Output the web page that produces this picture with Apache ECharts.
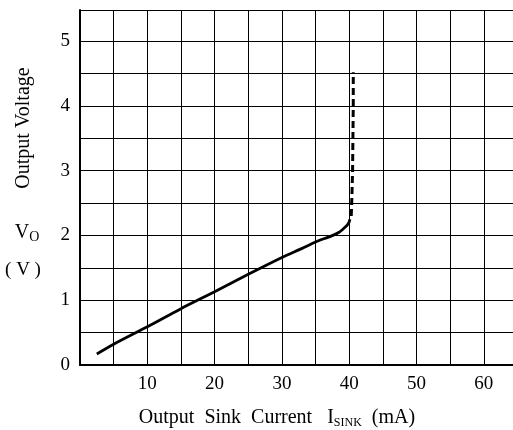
<!DOCTYPE html>
<html>
<head>
<meta charset="utf-8">
<script src="https://cdn.jsdelivr.net/npm/echarts@6/dist/echarts.min.js"></script>
<style>html,body{margin:0;padding:0;background:#fff;overflow:hidden}#c{width:540px;height:430px}</style>
</head>
<body>
<div id="c"></div>
<script>
const solidX = [2.5, 5, 10, 15, 20, 25, 30, 33, 35, 37.3, 38.5, 39.2, 39.7, 40.0, 40.1];
const solidY = [0.17, 0.32, 0.59, 0.87, 1.13, 1.40, 1.66, 1.80, 1.90, 1.99, 2.05, 2.11, 2.16, 2.21, 2.25];
const dashX = [40.3, 40.4, 40.5, 40.55, 40.6, 40.6];
const dashY = [2.3, 2.6, 3.0, 3.5, 4.0, 4.52];
const xTickLabels = [10, 20, 30, 40, 50, 60];
const yTickLabels = [0, 1, 2, 3, 4, 5];

const font = '"Liberation Serif", "DejaVu Serif", serif';
const chart = echarts.init(document.getElementById('c'));
const zip = (a, b) => a.map((v, i) => [v, b[i]]);
chart.setOption({
  animation: false,
  backgroundColor: '#fff',
  grid: { left: 80, right: 0, top: 10, bottom: 65 },
  xAxis: [{
    type: 'value', min: 0, max: 67.9, interval: 5,
    axisLine: { show: true, onZero: false, lineStyle: { color: '#000', width: 2 } },
    axisTick: { show: false },
    splitLine: { show: true, lineStyle: { color: '#000', width: 1 } },
    axisLabel: {
      color: '#000', fontFamily: font, fontSize: 19, margin: 10,
      formatter: v => (xTickLabels.indexOf(v) >= 0 ? String(v) : '')
    }
  }, {
    type: 'value', position: 'top', min: 0, max: 67.9,
    axisLine: { show: true, lineStyle: { color: '#000', width: 2 } },
    axisTick: { show: false }, axisLabel: { show: false }, splitLine: { show: false }
  }],
  yAxis: {
    type: 'value', min: 0, max: 5.48, interval: 0.5,
    axisLine: { show: true, lineStyle: { color: '#000', width: 2 } },
    axisTick: { show: false },
    splitLine: { show: true, lineStyle: { color: '#000', width: 1 } },
    axisLabel: {
      color: '#000', fontFamily: font, fontSize: 19, margin: 10,
      formatter: v => (yTickLabels.indexOf(v) >= 0 ? String(v) : '')
    }
  },
  series: [{
    type: 'line', data: zip(solidX, solidY), showSymbol: false, smooth: 0.2,
    lineStyle: { color: '#000', width: 2.8 }
  }, {
    type: 'line', data: zip(dashX, dashY), showSymbol: false,
    lineStyle: { color: '#000', width: 3, type: [7, 4] }
  }],
  graphic: [{
    type: 'text', x: 24, y: 128, rotation: Math.PI / 2,
    style: { text: 'Output Voltage', font: '20px ' + font, fill: '#000', align: 'center', verticalAlign: 'middle' }
  }, {
    type: 'text', x: 27, y: 233,
    style: {
      text: '{a|V}{b|O}', align: 'center', verticalAlign: 'middle', fill: '#000',
      rich: { a: { fontFamily: font, fontSize: 20, fill: '#000', lineHeight: 22 },
              b: { fontFamily: font, fontSize: 14, fill: '#000', lineHeight: 22, verticalAlign: 'bottom', padding: [4, 0, 0, 0] } }
    }
  }, {
    type: 'text', x: 23, y: 270,
    style: { text: '( V )', font: '19px ' + font, fill: '#000', align: 'center', verticalAlign: 'middle' }
  }, {
    type: 'text', x: 277, y: 418,
    style: {
      text: '{a|Output  Sink  Current   }{a|I}{b|SINK}{a|  (mA)}', align: 'center', verticalAlign: 'middle', fill: '#000',
      rich: { a: { fontFamily: font, fontSize: 20, fill: '#000', lineHeight: 22 },
              b: { fontFamily: font, fontSize: 12, fill: '#000', lineHeight: 22, verticalAlign: 'bottom', padding: [5, 0, 0, 0] } }
    }
  }]
});
</script>
</body>
</html>
